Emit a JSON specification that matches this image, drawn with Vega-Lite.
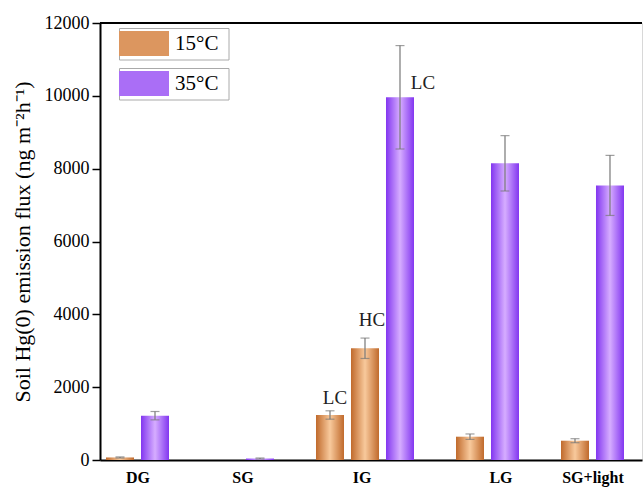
{
  "$schema": "https://vega.github.io/schema/vega-lite/v6.json",
  "autosize": {"type": "none"},
  "width": 542,
  "height": 437,
  "padding": {"left": 100, "top": 23, "right": 1, "bottom": 27},
  "config": {
    "font": "Liberation Serif",
    "axis": {"labelFont": "Liberation Serif", "titleFont": "Liberation Serif"},
    "legend": {"labelFont": "Liberation Serif"},
    "view": {"stroke": "#d8d8d8", "strokeWidth": 1}
  },
  "data": {
    "values": [
      {"group": "DG", "temp": "15°C", "slot": "DG|15", "value": 70, "err": 15, "note": ""},
      {"group": "DG", "temp": "35°C", "slot": "DG|35", "value": 1217, "err": 115, "note": ""},
      {"group": "SG", "temp": "15°C", "slot": "SG|15", "value": 0, "err": null, "note": ""},
      {"group": "SG", "temp": "35°C", "slot": "SG|35", "value": 40, "err": 15, "note": ""},
      {"group": "IG", "temp": "15°C", "slot": "IG|LC15", "value": 1236, "err": 115, "note": "LC"},
      {"group": "IG", "temp": "15°C", "slot": "IG|HC15", "value": 3068, "err": 280, "note": "HC"},
      {"group": "IG", "temp": "35°C", "slot": "IG|LC35", "value": 9960, "err": 1420, "note": "LC"},
      {"group": "LG", "temp": "15°C", "slot": "LG|15", "value": 640, "err": 75, "note": ""},
      {"group": "LG", "temp": "35°C", "slot": "LG|35", "value": 8147, "err": 760, "note": ""},
      {"group": "SG+light", "temp": "15°C", "slot": "SG+light|15", "value": 530, "err": 55, "note": ""},
      {"group": "SG+light", "temp": "35°C", "slot": "SG+light|35", "value": 7540, "err": 825, "note": ""}
    ]
  },
  "encoding": {
    "x": {
      "field": "slot",
      "type": "nominal",
      "sort": null,
      "scale": {
        "domain": ["DG|15", "DG|35", "gap1", "SG|15", "SG|35", "gap2", "IG|LC15", "IG|HC15", "IG|LC35", "gap3", "LG|15", "LG|35", "gap4", "SG+light|15", "SG+light|35"],
        "paddingInner": 0.2,
        "paddingOuter": 0.343,
        "align": 0.25
      },
      "axis": {
        "title": null,
        "ticks": false,
        "labelAngle": 0,
        "labelExpr": "datum.value === 'DG|15' ? 'DG' : datum.value === 'SG|15' ? 'SG' : datum.value === 'IG|HC15' ? 'IG' : datum.value === 'LG|15' ? 'LG' : datum.value === 'SG+light|15' ? 'SG+light' : ''",
        "labelOffset": {"condition": [{"test": "datum.value === 'IG|HC15'", "value": -3}, {"test": "datum.value === 'LG|15'", "value": 31}], "value": 18},
        "labelFont": "Liberation Serif",
        "labelFontWeight": "bold",
        "labelFontSize": 16,
        "labelColor": "#000",
        "labelPadding": 9,
        "domainColor": "#000",
        "domainWidth": 2,
        "labelOverlap": false
      }
    },
    "y": {
      "field": "value",
      "type": "quantitative",
      "scale": {"domain": [0, 12000], "nice": false},
      "axis": {
        "title": "Soil Hg(0) emission flux (ng m⁻²h⁻¹)",
        "titleFont": "Liberation Serif",
        "titleFontSize": 22,
        "titleFontWeight": "normal",
        "titleColor": "#000",
        "titlePadding": 10,
        "format": "d",
        "values": [0, 2000, 4000, 6000, 8000, 10000, 12000],
        "grid": false,
        "tickColor": "#000",
        "tickSize": 8,
        "tickWidth": 1.5,
        "labelFont": "Liberation Serif",
        "labelFontSize": 18,
        "labelColor": "#000",
        "labelPadding": 3,
        "domainColor": "#000",
        "domainWidth": 2
      }
    }
  },
  "layer": [
    {
      "mark": {"type": "bar", "opacity": 0},
      "encoding": {
        "fill": {
          "field": "temp",
          "type": "nominal",
          "scale": {"domain": ["15°C", "35°C"], "range": ["#dc965f", "#aa6ef6"]},
          "legend": {
            "title": null,
            "orient": "none",
            "legendX": 19,
            "legendY": 5,
            "symbolType": "M-1,-0.5H1V0.5H-1Z",
            "symbolSize": 2500,
            "symbolStrokeWidth": 0,
            "symbolOpacity": 1,
            "clipHeight": 31,
            "labelFont": "Liberation Serif",
            "labelFontSize": 21,
            "labelColor": "#000",
            "rowPadding": 7,
            "labelOffset": 6,
            "padding": 0,
            "encode": {
              "symbols": {
                "update": {
                  "opacity": {"value": 1}
                }
              },
              "entries": {
                "update": {
                  "stroke": {"value": "#aaaaaa"},
                  "strokeWidth": {"value": 1},
                  "width": {"value": 109},
                  "height": {"value": 31}
                }
              }
            }
          }
        }
      }
    },
    {
      "transform": [{"filter": "datum.temp === '15°C'"}],
      "mark": {"type": "bar", "fill": {"gradient": "linear", "x1": 0, "y1": 0, "x2": 1, "y2": 0, "stops": [{"offset": 0, "color": "#c06a2c"}, {"offset": 0.5, "color": "#f8c99c"}, {"offset": 1, "color": "#c06a2c"}]}},
      "encoding": {}
    },
    {
      "transform": [{"filter": "datum.temp === '35°C'"}],
      "mark": {"type": "bar", "fill": {"gradient": "linear", "x1": 0, "y1": 0, "x2": 1, "y2": 0, "stops": [{"offset": 0, "color": "#8236f0"}, {"offset": 0.5, "color": "#d6adff"}, {"offset": 1, "color": "#8236f0"}]}},
      "encoding": {}
    },
    {
      "transform": [{"filter": "datum.err != null"}],
      "mark": {"type": "errorbar", "ticks": {"size": 9, "color": "#777"}, "rule": {"color": "#777"}, "thickness": 1.2},
      "encoding": {
        "yError": {"field": "err"}
      }
    },
    {
      "transform": [{"filter": "datum.slot === 'IG|LC15'"}],
      "mark": {"type": "text", "fontSize": 19, "dy": -17, "dx": 5, "color": "#222"},
      "encoding": {"text": {"field": "note"}}
    },
    {
      "transform": [{"filter": "datum.slot === 'IG|HC15'"}],
      "mark": {"type": "text", "fontSize": 19, "dy": -28, "dx": 7, "color": "#222"},
      "encoding": {"text": {"field": "note"}}
    },
    {
      "transform": [{"filter": "datum.slot === 'IG|LC35'"}],
      "mark": {"type": "text", "fontSize": 19, "dy": -14, "dx": 23, "color": "#222"},
      "encoding": {"text": {"field": "note"}}
    },
    {
      "mark": {"type": "rule", "color": "#000", "strokeWidth": 2},
      "encoding": {"y": {"datum": 12000}, "x": {"value": 0}, "x2": {"value": 542}}
    }
  ]
}
